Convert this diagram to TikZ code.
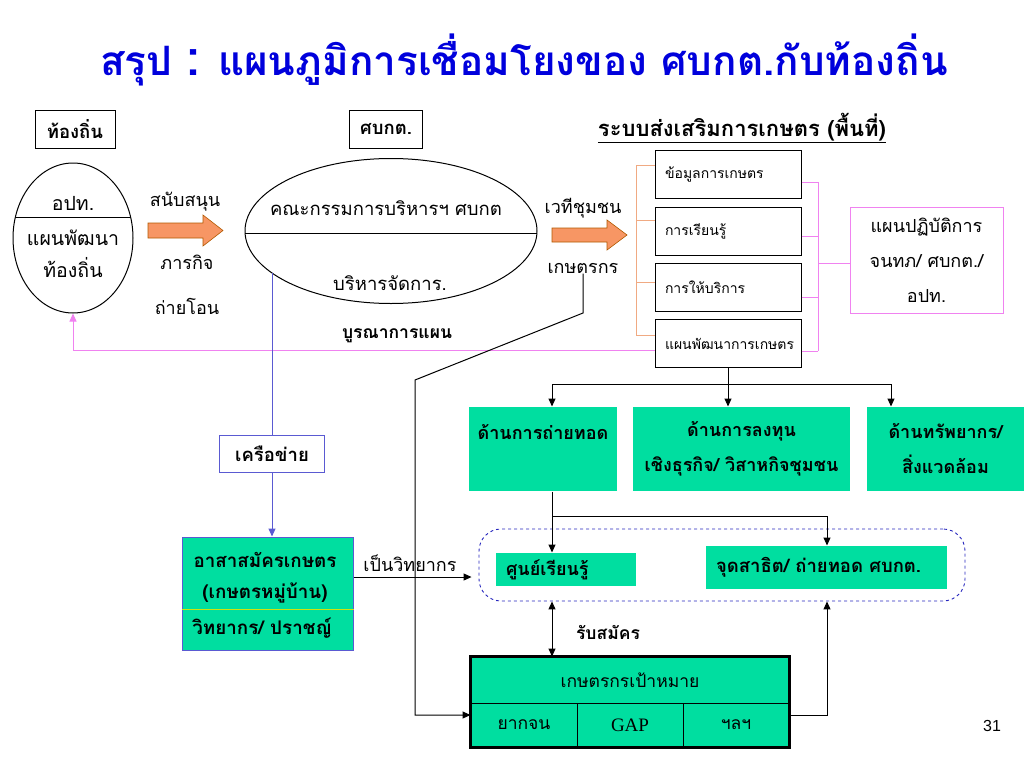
\documentclass[tikz,border=0pt]{standalone}
\usepackage{fontspec}
\setmainfont{Liberation Serif}
\newfontfamily\thai[Script=Thai]{Loma}
\newfontfamily\arialfont{Liberation Sans}
\usetikzlibrary{shapes.geometric,arrows.meta}

\definecolor{boxgreen}{RGB}{0,222,160}
\definecolor{arroworange}{RGB}{247,150,100}
\definecolor{bracketorange}{RGB}{240,170,130}
\definecolor{planpink}{RGB}{240,130,240}
\definecolor{netblue}{RGB}{90,90,210}
\definecolor{hubblue}{RGB}{40,40,190}
\definecolor{titleblue}{RGB}{0,0,220}

\newcommand\tsize[1]{\fontsize{#1}{#1}\selectfont}

\tikzset{
  every node/.style={inner sep=0pt, font=\thai\tsize{18}},
  headbox/.style={draw, line width=1pt, minimum height=38pt, font=\thai\bfseries\tsize{18.5}},
  sysbox/.style={draw, line width=1pt, minimum width=146pt, minimum height=48pt,
    text width=126pt, align=left, font=\thai\tsize{14}},
  greenbox/.style={fill=boxgreen, align=center, font=\thai\bfseries\fontsize{18}{35}\selectfont},
  cell/.style={draw, fill=boxgreen, line width=1pt, minimum width=106pt, minimum height=44pt,
    font=\thai\tsize{17.5}}
}

\begin{document}
\begin{tikzpicture}[x=1pt,y=-1pt,line width=1pt,>={Triangle[length=8pt,width=7pt]}]
\useasboundingbox (0,0) rectangle (1024,768);

% Title
\node[text=titleblue, font=\thai\bfseries\tsize{40.5}] (title) at (524,60)
  {สรุป {\tsize{50}:} แผนภูมิการเชื่อมโยงของ ศบกต.กับท้องถิ่น};

% Headings
\node[headbox, minimum width=80pt] (hlocal) at (75,129) {ท้องถิ่น};
\node[headbox, minimum width=73pt] (hcenter) at (386,129) {ศบกต.};
\node[font=\thai\bfseries\tsize{22}] (hsystem) at (742,128) {\underline{ระบบส่งเสริมการเกษตร (พื้นที่)}};

% Local ellipse
\node[ellipse, draw, minimum width=120pt, minimum height=150pt] (opt) at (73,238) {};
\begin{scope}
\clip (73,238) ellipse (60 and 75);
\draw (0,217) -- (150,217);
\end{scope}
\node[font=\thai\tsize{19.5}] (opttop) at (73,203) {อปท.};
\node[font=\thai\tsize{19.5}] (optplan) at (73,238) {แผนพัฒนา};
\node[font=\thai\tsize{19.5}] (optlocal) at (73,268) {ท้องถิ่น};

% Board ellipse
\node[ellipse, draw, minimum width=292pt, minimum height=145pt] (board) at (391,231) {};
\begin{scope}
\clip (391,231) ellipse (146 and 72.5);
\draw (200,233) -- (600,233);
\end{scope}
\node[font=\thai\tsize{18.5}] (boardtop) at (386,208) {คณะกรรมการบริหารฯ ศบกต};
\node[font=\thai\tsize{18.5}] (boardbot) at (390,283) {บริหารจัดการ.};

% Fat arrows
\filldraw[fill=arroworange, draw=orange!70!black, line width=0.6pt]
  (148,223) -- (203,223) -- (203,215) -- (223,230.5) -- (203,246) -- (203,238) -- (148,238) -- cycle;
\filldraw[fill=arroworange, draw=orange!70!black, line width=0.6pt]
  (552,228) -- (607,228) -- (607,220) -- (627,235) -- (607,250) -- (607,242) -- (552,242) -- cycle;
\node (support) at (185,202) {สนับสนุน};
\node (mission) at (187,262) {ภารกิจ};
\node (transfer) at (187,306) {ถ่ายโอน};
\node (forum) at (583,208) {เวทีชุมชน};
\node (farmer) at (583,268) {เกษตรกร};

% Extension system
\node[sysbox] (sysdata) at (728,174) {ข้อมูลการเกษตร};
\node[sysbox] (syslearn) at (728,231) {การเรียนรู้};
\node[sysbox] (sysserv) at (728,287) {การให้บริการ};
\node[sysbox] (sysplan) at (728,343.5) {แผนพัฒนาการเกษตร};

\draw[bracketorange] (636,165) -- (636,335);
\draw[bracketorange] (636,165) -- (sysdata.west |- 0,165);
\draw[bracketorange] (636,220) -- (syslearn.west |- 0,220);
\draw[bracketorange] (636,282) -- (sysserv.west |- 0,282);
\draw[bracketorange] (636,335) -- (sysplan.west |- 0,335);

\node[draw=planpink, minimum width=153pt, minimum height=106pt, align=center,
  font=\thai\fontsize{18}{35}\selectfont] (actplan) at (926.5,260) {แผนปฏิบัติการ\\จนทภ/ ศบกต./\\อปท.};
\draw[planpink] (818,182) -- (818,351);
\draw[planpink] (sysdata.east |- 0,182) -- (818,182);
\draw[planpink] (syslearn.east |- 0,236) -- (818,236);
\draw[planpink] (sysserv.east |- 0,297) -- (818,297);
\draw[planpink] (sysplan.east |- 0,351) -- (818,351);
\draw[planpink] (818,263) -- (actplan.west |- 0,263);

% Plan feedback
\draw[planpink,->] (sysplan.west |- 0,350) -| (opt.south);
\node[font=\thai\bfseries\tsize{17.5}] (integrate) at (397,336) {บูรณาการแผน};

% Network
\node[headbox, draw=netblue, minimum width=105pt, minimum height=37pt] (net) at (272,453.5) {เครือข่าย};
\draw[netblue] (net.north |- board.199.4) -- (net.north);
\node[draw=netblue, fill=boxgreen, minimum width=171pt, minimum height=113pt] (vol) at (267.5,593.5) {};
\draw[netblue,->] (net.south) -- (net.south |- vol.north);
\draw[yellow!80!green] (vol.west |- 0,609) -- (vol.east |- 0,609);
\node[font=\thai\bfseries\tsize{18.8}] (voltitle) at (265,560) {อาสาสมัครเกษตร};
\node[font=\thai\bfseries\tsize{18.8}] (volsub) at (265,593) {(เกษตรหมู่บ้าน)};
\node[font=\thai\bfseries\tsize{18.8}] (volexp) at (262,628) {วิทยากร/ ปราชญ์};

% Learning hub
\node[draw=hubblue, dashed, line width=0.9pt, rounded corners=22pt,
  minimum width=486pt, minimum height=72pt] (hub) at (722,565) {};
\draw[->] (vol.east |- 0,577) -- ([xshift=-7pt]hub.west |- 0,577);
\node (lecturer) at (410,563) {เป็นวิทยากร};
\node[fill=boxgreen, minimum width=140pt, minimum height=33pt, text width=120pt, align=left,
  font=\thai\bfseries\tsize{18}] (learn) at (566,569.5) {ศูนย์เรียนรู้};
\node[fill=boxgreen, minimum width=241pt, minimum height=43pt, text width=221pt, align=left,
  font=\thai\bfseries\tsize{18.5}] (demo) at (826.5,567.5) {จุดสาธิต/ ถ่ายทอด ศบกต.};

% Green row
\node[greenbox, minimum width=148pt, minimum height=84pt] (btrans) at (543,449) {ด้านการถ่ายทอด\\~};
\node[greenbox, minimum width=217pt, minimum height=84pt] (binvest) at (741.5,449) {ด้านการลงทุน\\เชิงธุรกิจ/ วิสาหกิจชุมชน};
\node[greenbox, minimum width=157pt, minimum height=84pt] (bres) at (945.5,449) {ด้านทรัพยากร/\\สิ่งแวดล้อม};

\coordinate (d1) at (552,384);
\coordinate (d2) at (728,384);
\coordinate (d3) at (891,384);
\draw (sysplan.south) -- (d2);
\draw (d1) -- (d3);
\draw[->] (d1) -- (d1 |- btrans.north);
\draw[->] (d2) -- (d2 |- binvest.north);
\draw[->] (d3) -- (d3 |- bres.north);

\coordinate (d4) at (552,516);
\coordinate (d5) at (827,516);
\draw[->] (d1 |- btrans.south) -- (d1 |- learn.north);
\draw (d4) -- (d5);
\draw[->] (d5) -- (d5 |- demo.north);

% Target farmers
\node[cell, minimum width=318pt, minimum height=46pt] (thead) at (630,680) {เกษตรกรเป้าหมาย};
\node[cell] (tpoor) at (524,725) {ยากจน};
\node[cell] (tgap) at (630,725) {\normalfont\tsize{19}GAP};
\node[cell] (tetc) at (736,725) {ฯลฯ};
\draw[line width=3pt] (thead.north west) rectangle (tetc.south east);

\draw[<->] (d1 |- hub.south) -- (d1 |- thead.north);
\node[font=\thai\bfseries\tsize{17.5}] (apply) at (608,632) {รับสมัคร};
\draw[->] (farmer.south) -- (farmer.south |- 0,313) -- (415,380) -- (415,715) -- (tpoor.west |- 0,715);
\draw[->] (tetc.east |- 0,715) -- (827,715) -- (d5 |- hub.south);

\node[font=\arialfont\tsize{16}] (page) at (992,726) {31};
\end{tikzpicture}
\end{document}
